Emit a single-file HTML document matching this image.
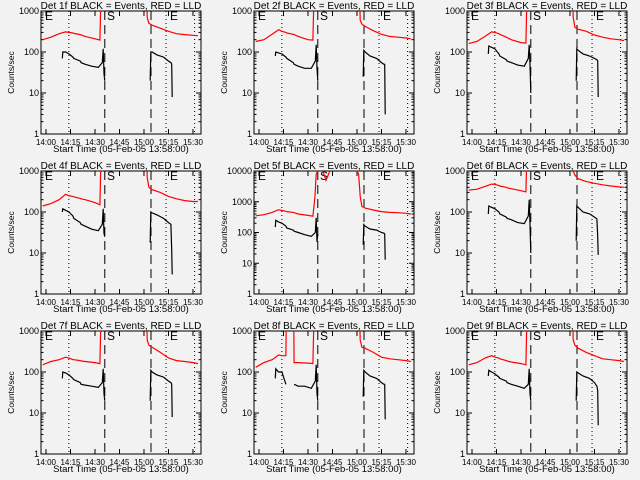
<!DOCTYPE html>
<html><head><meta charset="utf-8"><style>
body{margin:0;background:#f2f2f2}
svg{display:block}
text{font-family:"Liberation Sans",sans-serif;fill:#000}
</style></head><body>
<svg id="c" width="640" height="480" viewBox="0 0 640 480" xmlns="http://www.w3.org/2000/svg">
<rect width="640" height="480" fill="#f2f2f2"/>
</svg>
<script>
const H = 30000;
const detNames = ["1f","2f","3f","4f","5f","6f","7f","8f","9f"];
const yMaxes = [1000,1000,1000,1000,10000,1000,1000,1000,1000];
const xTickMinutes = [0,15,30,45,60,75,90];
const xTickLabels = ["14:00","14:15","14:30","14:45","15:00","15:15","15:30"];
const dottedMinutes = [14,73.5,91];
const dashedMinutes = [36,64.3];
// red (LLD) sample times, minutes after 14:00
const redTimes = [-2,3,8,12,14,16.5,17,21,21.5,24,30,33,34.3,35,38,41,44,50,58,61,62,63,65,70,75,80,85,90,93];
const red1 = [200,230,280,310,300,290,285,265,260,240,210,195,H,H,H,H,H,H,H,H,700,500,450,380,320,280,265,255,250];
const red2 = [180,200,270,350,320,300,290,270,265,240,200,195,H,H,H,H,H,H,H,H,600,480,420,330,270,240,230,220,210];
const red3 = [160,180,240,310,300,280,270,230,225,200,170,165,H,H,H,H,H,H,H,H,700,400,360,320,260,230,210,200,190];
const red4 = [140,160,200,270,250,240,235,215,210,200,170,150,H,H,H,H,H,H,H,H,700,400,350,300,240,210,190,180,180];
const red5 = [350,380,450,550,520,490,480,450,440,400,360,340,1500,8000,15000,5000,12000,15000,15000,8000,1500,700,620,540,480,450,440,420,400];
const red6 = [340,360,420,480,470,440,430,400,390,370,330,310,H,H,H,H,H,H,H,H,1000,800,650,550,500,460,430,410,400];
const red7 = [150,180,200,230,220,200,200,190,185,180,170,160,H,H,H,H,H,H,H,H,600,450,400,300,220,190,180,170,160];
const red8 = [130,170,200,260,250,250,H,H,170,170,165,160,H,H,H,H,H,H,H,H,600,400,380,300,230,210,200,190,180];
const red9 = [150,170,220,250,230,220,210,190,185,175,160,150,H,H,H,H,H,H,H,H,600,450,380,300,250,210,200,190,180];
// black (events) sample times
const blackTimes = [10,10.3,12,14,16.5,17,21,21.5,24,28,32,34.5,35,35.5,36,50,63.8,64.2,65,68,72,75,76.5,77,77.3];
const black1 = [70,100,100,90,75,70,60,55,50,45,42,55,120,30,20,null,20,100,100,85,75,60,55,50,8];
const black2 = [80,100,95,90,75,70,55,50,45,40,40,60,150,40,20,null,25,110,100,80,70,55,50,50,3];
const black3 = [90,140,130,120,90,80,65,60,55,48,45,70,150,50,10,null,20,120,110,90,80,70,65,60,8];
const black4 = [100,120,110,100,80,70,55,50,45,38,35,50,120,30,25,null,18,100,95,85,70,55,50,12,3];
const black5 = [150,250,220,200,160,140,120,110,100,85,75,100,300,50,90,null,40,180,160,130,120,100,95,90,13];
const black6 = [90,140,130,120,100,90,75,70,65,55,52,80,200,50,10,null,20,140,130,100,90,75,68,25,9];
const black7 = [70,100,95,85,70,65,55,50,48,45,42,55,120,30,20,null,20,110,100,85,75,60,55,50,8];
const black8 = [70,120,100,100,50,null,null,50,45,45,40,60,150,30,20,null,25,110,100,80,70,55,50,50,7];
const black9 = [80,110,100,90,75,70,60,55,50,45,40,50,120,30,20,null,20,100,95,80,70,55,45,35,5];
const reds = [red1,red2,red3,red4,red5,red6,red7,red8,red9];
const blacks = [black1,black2,black3,black4,black5,black6,black7,black8,black9];

const svg = document.getElementById('c');
const NS = 'http://www.w3.org/2000/svg';
function mk(tag, attrs, parent){const e=document.createElementNS(NS,tag);for(const k in attrs)e.setAttribute(k,attrs[k]);(parent||svg).appendChild(e);return e;}
function txt(s, attrs, parent){const e=mk('text',attrs,parent);e.textContent=s;return e;}

for(let p=0;p<9;p++){
  const ox=(p%3)*213, oy=Math.floor(p/3)*160;
  const L=ox+41,R=ox+201,T=oy+11,B=oy+134;
  const ymax=yMaxes[p], nd=Math.log10(ymax);
  const xs=t=>ox+46+t*1.633;
  const ys=v=>B-Math.log10(v)/nd*(B-T);
  const g=mk('g',{});
  
  
  const cp=mk('clipPath',{id:'cp'+p},g);
  mk('rect',{x:L,y:T,width:R-L,height:B-T},cp);
  const title=txt('Det '+detNames[p]+' BLACK = Events, RED = LLD',{x:ox+121,y:oy+9,'font-size':10,'text-anchor':'middle'},g);
  
  
  const xt=txt('Start Time (05-Feb-05 13:58:00)',{x:ox+121,y:oy+152,'font-size':9.5,'text-anchor':'middle'},g);
  
  
  const yt=txt('Counts/sec',{x:0,y:0,'font-size':8.5,'text-anchor':'middle',transform:`translate(${ox+14},${(T+B)/2}) rotate(-90)`},g);
  
  
  const fr=mk('rect',{x:L,y:T,width:R-L,height:B-T,fill:'none',stroke:'#000','stroke-width':1},g);
  
  
  xTickMinutes.forEach((m,i)=>{
    const x=xs(m);
    mk('line',{x1:x,y1:B,x2:x,y2:B-5,stroke:'#000'},g);
    mk('line',{x1:x,y1:T,x2:x,y2:T+5,stroke:'#000'},g);
    const l=txt(xTickLabels[i],{x:x,y:B+11,'font-size':8.5,'text-anchor':'middle',textLength:20,lengthAdjust:'spacingAndGlyphs'},g);
    
    
  });
  for(let d=0;d<=nd;d++){
    const y=ys(Math.pow(10,d));
    mk('line',{x1:L,y1:y,x2:L+5,y2:y,stroke:'#000'},g);
    mk('line',{x1:R,y1:y,x2:R-5,y2:y,stroke:'#000'},g);
    const l=txt(String(Math.pow(10,d)),{x:L-2,y:y+3,'font-size':9,'text-anchor':'end'},g);
    
    
    if(d<nd) for(let k=2;k<10;k++){const yy=ys(k*Math.pow(10,d));
      mk('line',{x1:L,y1:yy,x2:L+2.5,y2:yy,stroke:'#000'},g);
      mk('line',{x1:R,y1:yy,x2:R-2.5,y2:yy,stroke:'#000'},g);}
  }
  dottedMinutes.forEach(m=>{const l=mk('line',{x1:xs(m),y1:T,x2:xs(m),y2:B,stroke:'#000','stroke-dasharray':'1,3'},g);
    
    });
  dashedMinutes.forEach(m=>{const l=mk('line',{x1:xs(m),y1:T,x2:xs(m),y2:B,stroke:'#000','stroke-dasharray':'9,5'},g);
    
    });
  [['E',45],['S',107],['E',170]].forEach(([s,dx])=>{const l=txt(s,{x:ox+dx,y:T+9,'font-size':12},g);
    
    });
  function series(times,vals,color,name){
    let d='',pen=false;
    times.forEach((t,i)=>{const v=vals[i];
      if(v==null){pen=false;return;}
      d+=(pen?'L':'M')+xs(t).toFixed(1)+','+ys(v).toFixed(1);pen=true;});
    const path=mk('path',{d:d,fill:'none',stroke:color,'stroke-width':1.2,'clip-path':'url(#cp'+p+')'},g);
    
    
  }
  series(redTimes,reds[p],'#ff0000','lld-red-line');
  series(blackTimes,blacks[p],'#000000','events-black-line');
}
</script>
</body></html>
